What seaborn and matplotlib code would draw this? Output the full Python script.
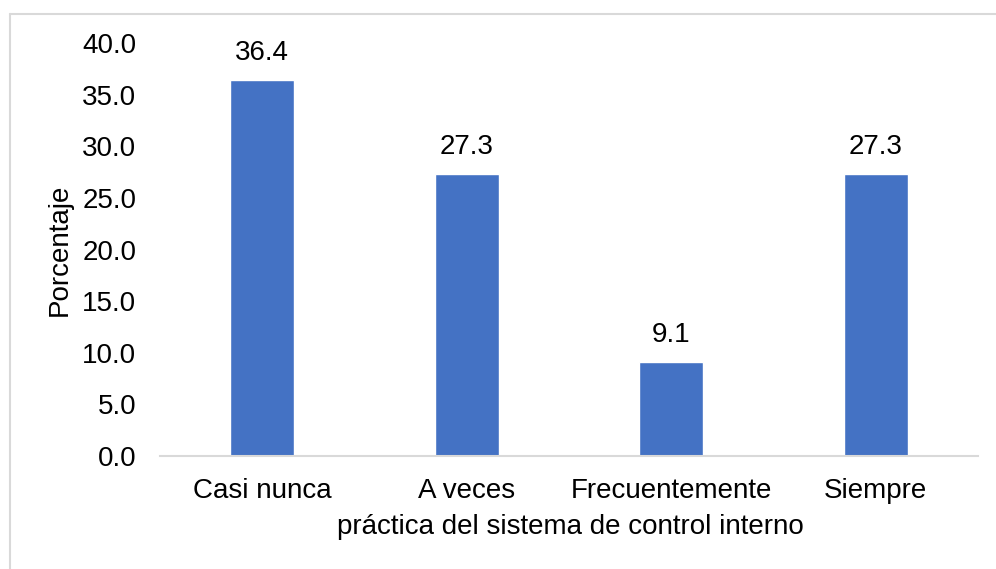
import matplotlib
matplotlib.use("Agg")
import matplotlib.pyplot as plt
from matplotlib.lines import Line2D
import seaborn as sns
import pandas as pd

categories = ["Casi nunca", "A veces", "Frecuentemente", "Siempre"]
percentages = [36.4, 27.3, 9.1, 27.3]
y_ticks = [0, 5, 10, 15, 20, 25, 30, 35, 40]

sns.set_theme(style="white")
plt.rcParams["font.family"] = ["Liberation Sans", "DejaVu Sans"]

FS = 20

df = pd.DataFrame({"categoria": categories, "porcentaje": percentages})

fig = plt.figure(figsize=(9.96, 5.69), dpi=100)
ax = fig.add_axes([160 / 996, 1 - 456 / 569, 818 / 996, 413 / 569])

sns.barplot(data=df, x="categoria", y="porcentaje", color="#4472C4",
            saturation=1, width=0.315, ax=ax)

ax.set_ylim(0, 40)
ax.set_xlim(-0.5, len(categories) - 0.5)
ax.set_yticks(y_ticks)
ax.set_yticklabels([f"{v:.1f}" for v in y_ticks])
ax.tick_params(axis="both", length=0, labelsize=FS, colors="black")
ax.tick_params(axis="y", pad=17)
ax.tick_params(axis="x", pad=16)

for s in ["top", "right", "left"]:
    ax.spines[s].set_visible(False)
ax.spines["bottom"].set_color("#D9D9D9")
ax.spines["bottom"].set_linewidth(1.5)
ax.grid(False)

for container in ax.containers:
    ax.bar_label(container, labels=[f"{v:.1f}" for v in percentages],
                 padding=10, fontsize=FS, color="black")

ax.set_ylabel("Porcentaje", fontsize=FS, color="black", va="center")
ax.yaxis.set_label_coords(-0.122, 0.5)
ax.set_xlabel("práctica del sistema de control interno", fontsize=FS,
              color="black", va="center")
ax.xaxis.set_label_coords((570 - 160) / 818, -0.172)

# chart frame
fig.add_artist(Line2D([9.5 / 996, 1], [1 - 13.5 / 569, 1 - 13.5 / 569],
                      transform=fig.transFigure, color="#D9D9D9", lw=1.5))
fig.add_artist(Line2D([9.5 / 996, 9.5 / 996], [0, 1 - 13.5 / 569],
                      transform=fig.transFigure, color="#D9D9D9", lw=1.5))

fig.savefig("out.png", dpi=100)
